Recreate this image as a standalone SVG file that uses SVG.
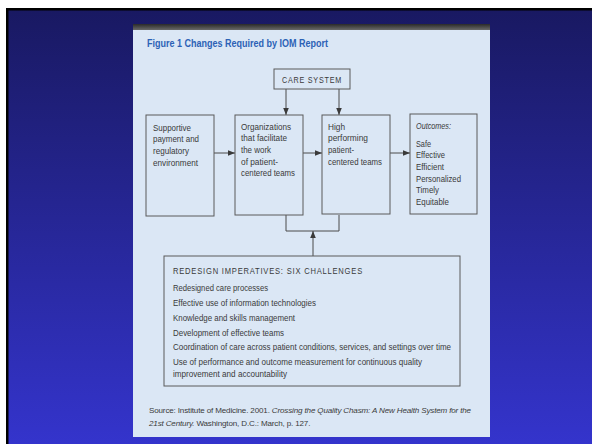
<svg xmlns="http://www.w3.org/2000/svg" width="592" height="444" viewBox="0 0 592 444">
<defs>
<linearGradient id="bg" x1="0" y1="0" x2="0" y2="1">
<stop offset="0" stop-color="#191962"/>
<stop offset="1" stop-color="#3434cc"/>
</linearGradient>
<linearGradient id="bar" x1="0" y1="0" x2="0" y2="1">
<stop offset="0" stop-color="#2a2a2a"/>
<stop offset="1" stop-color="#6a6a6a"/>
</linearGradient>
<marker id="ah" viewBox="0 0 10 10" refX="10" refY="5" markerWidth="7" markerHeight="7" orient="auto" markerUnits="userSpaceOnUse">
<path d="M0,1 L10,5 L0,9 Z" fill="#3a3a3a"/>
</marker>
<style>
.box{fill:none;stroke:#5a5a5a;stroke-width:1}
.ln{fill:none;stroke:#4a4a4a;stroke-width:1}
.t{font-family:"Liberation Sans",Arial,sans-serif;font-size:9.4px;fill:#3a3a3a}
.r{font-family:"Liberation Sans",Arial,sans-serif;font-size:9.3px;fill:#3a3a3a}
.caps{font-family:"Liberation Sans",Arial,sans-serif;font-size:9.6px;fill:#3a3a3a;letter-spacing:1px}
.title{font-family:"Liberation Sans",Arial,sans-serif;font-size:11.5px;font-weight:bold;fill:#2c62b5}
.src{font-family:"Liberation Sans",Arial,sans-serif;font-size:8.05px;letter-spacing:-0.15px;fill:#3a3a3a}
</style>
</defs>
<rect width="592" height="444" fill="#ffffff"/>
<rect x="6" y="8" width="586" height="436" fill="#000000"/>
<rect x="8.5" y="10.5" width="583.5" height="433.5" fill="url(#bg)"/>
<rect x="133" y="24" width="357" height="413" fill="#dbe7f5"/>
<rect x="133" y="24" width="357" height="6" fill="url(#bar)"/>
<text class="title" x="147" y="47" textLength="181" lengthAdjust="spacingAndGlyphs">Figure 1  Changes Required by IOM Report</text>

<g id="connectors">
<line class="ln" x1="286" y1="89" x2="286" y2="115" marker-end="url(#ah)"/>
<line class="ln" x1="339" y1="89" x2="339" y2="115" marker-end="url(#ah)"/>
<line class="ln" x1="214" y1="153" x2="235" y2="153" marker-end="url(#ah)"/>
<line class="ln" x1="303" y1="153" x2="322" y2="153" marker-end="url(#ah)"/>
<line class="ln" x1="390" y1="153" x2="410" y2="153" marker-end="url(#ah)"/>
<polyline class="ln" points="286,215 286,231 339,231 339,215"/>
<line class="ln" x1="313" y1="256" x2="313" y2="231" marker-end="url(#ah)"/>
</g>

<g id="care-system">
<rect class="box" x="274" y="69" width="76" height="20"/>
<text class="caps" x="282" y="82.5" textLength="60" lengthAdjust="spacingAndGlyphs">CARE SYSTEM</text>
</g>

<g id="supportive">
<rect class="box" x="146" y="115" width="68" height="101"/>
<text class="t" x="153" y="130.5" textLength="38" lengthAdjust="spacingAndGlyphs">Supportive</text>
<text class="t" x="153" y="142.2" textLength="46" lengthAdjust="spacingAndGlyphs">payment and</text>
<text class="t" x="153" y="153.9" textLength="36" lengthAdjust="spacingAndGlyphs">regulatory</text>
<text class="t" x="153" y="165.6" textLength="45" lengthAdjust="spacingAndGlyphs">environment</text>
</g>

<g id="organizations">
<rect class="box" x="235" y="115" width="68" height="100"/>
<text class="t" x="241" y="129.5" textLength="50" lengthAdjust="spacingAndGlyphs">Organizations</text>
<text class="t" x="241" y="141.2" textLength="46" lengthAdjust="spacingAndGlyphs">that facilitate</text>
<text class="t" x="241" y="152.9" textLength="30" lengthAdjust="spacingAndGlyphs">the work</text>
<text class="t" x="241" y="164.6" textLength="37" lengthAdjust="spacingAndGlyphs">of patient-</text>
<text class="t" x="241" y="176.3" textLength="54" lengthAdjust="spacingAndGlyphs">centered teams</text>
</g>

<g id="high-performing">
<rect class="box" x="322" y="115" width="68" height="99"/>
<text class="t" x="328" y="129.5" textLength="17" lengthAdjust="spacingAndGlyphs">High</text>
<text class="t" x="328" y="141.2" textLength="40" lengthAdjust="spacingAndGlyphs">performing</text>
<text class="t" x="328" y="152.9" textLength="26" lengthAdjust="spacingAndGlyphs">patient-</text>
<text class="t" x="328" y="164.6" textLength="54" lengthAdjust="spacingAndGlyphs">centered teams</text>
</g>

<g id="outcomes">
<rect class="box" x="410" y="114" width="67" height="100"/>
<text class="t" x="416" y="128.5" font-style="italic" textLength="35" lengthAdjust="spacingAndGlyphs">Outcomes:</text>
<text class="t" x="416" y="146.5" textLength="15" lengthAdjust="spacingAndGlyphs">Safe</text>
<text class="t" x="416" y="158.2" textLength="29" lengthAdjust="spacingAndGlyphs">Effective</text>
<text class="t" x="416" y="169.9" textLength="28" lengthAdjust="spacingAndGlyphs">Efficient</text>
<text class="t" x="416" y="181.6" textLength="45" lengthAdjust="spacingAndGlyphs">Personalized</text>
<text class="t" x="416" y="193.3" textLength="23" lengthAdjust="spacingAndGlyphs">Timely</text>
<text class="t" x="416" y="205" textLength="33" lengthAdjust="spacingAndGlyphs">Equitable</text>
</g>

<g id="redesign">
<rect class="box" x="164" y="256" width="296" height="130"/>
<text class="caps" x="173" y="273.5" textLength="190" lengthAdjust="spacingAndGlyphs">REDESIGN IMPERATIVES: SIX CHALLENGES</text>
<text class="r" x="173" y="291" textLength="95" lengthAdjust="spacingAndGlyphs">Redesigned care processes</text>
<text class="r" x="173" y="306" textLength="143" lengthAdjust="spacingAndGlyphs">Effective use of information technologies</text>
<text class="r" x="173" y="321" textLength="122" lengthAdjust="spacingAndGlyphs">Knowledge and skills management</text>
<text class="r" x="173" y="335.5" textLength="111" lengthAdjust="spacingAndGlyphs">Development of effective teams</text>
<text class="r" x="173" y="350" textLength="278" lengthAdjust="spacingAndGlyphs">Coordination of care across patient conditions, services, and settings over time</text>
<text class="r" x="173" y="365" textLength="249" lengthAdjust="spacingAndGlyphs">Use of performance and outcome measurement for continuous quality</text>
<text class="r" x="173" y="377" textLength="114" lengthAdjust="spacingAndGlyphs">improvement and accountability</text>
</g>

<text class="src" x="149" y="412.5">Source: Institute of Medicine. 2001. <tspan font-style="italic">Crossing the Quality Chasm: A New Health System for the</tspan></text>
<text class="src" x="149" y="425.5"><tspan font-style="italic">21st Century.</tspan> Washington, D.C.: March, p. 127.</text>
</svg>
